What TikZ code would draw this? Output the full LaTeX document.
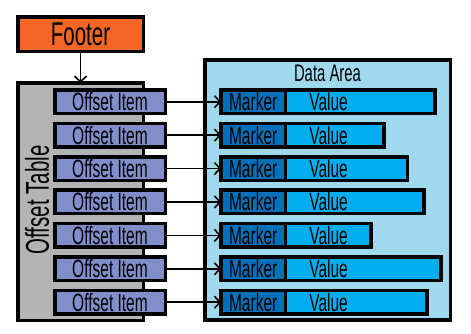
\documentclass[tikz,border=0pt]{standalone}
\usepackage{fontspec}
\newfontfamily\agency[FakeStretch=0.62]{Liberation Sans}
\usetikzlibrary{arrows.meta}
\definecolor{footerorange}{RGB}{243,102,35}
\definecolor{tablegray}{RGB}{180,180,180}
\definecolor{itemblue}{RGB}{128,142,202}
\definecolor{areablue}{RGB}{160,216,238}
\definecolor{markblue}{RGB}{0,112,184}
\definecolor{valblue}{RGB}{0,174,239}
\begin{document}
\begin{tikzpicture}[x=1pt,y=-1pt,
  box/.style={draw=black, line width=3.5pt, inner sep=0pt, outer sep=0pt,
    font=\agency\fontsize{25pt}{27pt}\selectfont},
  footerbox/.style={box, fill=footerorange, minimum width=125.5pt, minimum height=34.5pt,
    font=\agency\fontsize{33pt}{35pt}\selectfont},
  tablebox/.style={box, fill=tablegray, minimum width=125.5pt, minimum height=237.5pt},
  itembox/.style={box, fill=itemblue, minimum width=110.5pt, minimum height=23.5pt},
  areabox/.style={box, fill=areablue, minimum width=245.2pt, minimum height=259.9pt},
  markbox/.style={box, fill=markblue, minimum width=64.25pt, minimum height=23.5pt},
  valbox/.style={box, fill=valblue, minimum height=23.5pt, align=left, anchor=west},
  conn/.style={line width=1.6pt, -{Straight Barb[length=5.5pt,width=12pt]}},
  plain/.style={inner sep=0pt, font=\agency\fontsize{24pt}{26pt}\selectfont}
]
\useasboundingbox (0,0) rectangle (471,333);
\fill[white] (0,0) rectangle (471,333);
\node[footerbox] (footer) at (80.5,34) {Footer};
\node[tablebox] (table) at (80.5,201.5) {};
\node[plain, rotate=90, font=\agency\fontsize{33pt}{35pt}\selectfont] (tabletitle) at (37,200) {Offset Table};
\node[areabox] (area) at (327.7,190) {};
\node[plain] (areatitle) at (327.5,73) {Data Area};
\draw[conn] (footer.south) -- (table.north);
\foreach \i/\r in {1/436.7,2/385.7,3/409.3,4/425.7,5/372.7,6/442.7,7/428.7}{
  \pgfmathsetmacro\yy{101.7+33.42*(\i-1)}
  \pgfmathsetmacro\vw{\r-287.05}
  \node[itembox] (item\i) at (110,\yy) {Offset Item};
  \node[markbox] (mark\i) at (253.18,\yy) {Marker};
  \node[valbox, text width=\vw pt] (val\i) at (mark\i.east) {\hspace*{24pt}Value};
  \draw[conn] (item\i.east) -- (mark\i.west);
}
\end{tikzpicture}
\end{document}
